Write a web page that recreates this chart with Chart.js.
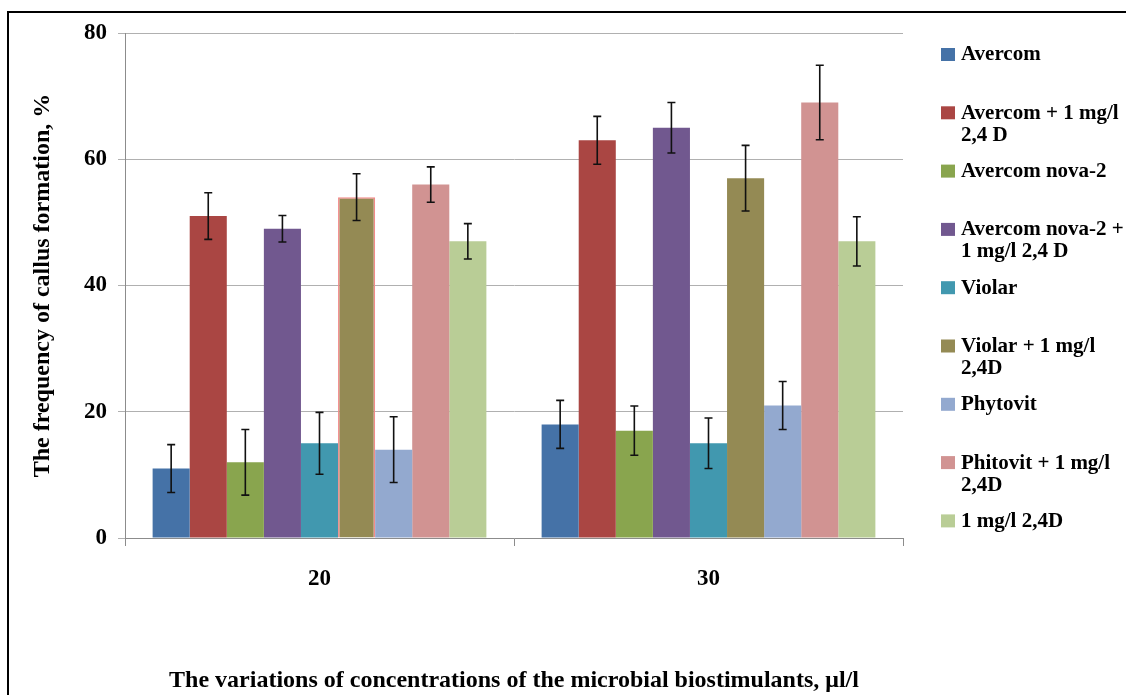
<!DOCTYPE html>
<html>
<head>
<meta charset="utf-8">
<script src="https://cdn.jsdelivr.net/npm/chart.js@4/dist/chart.umd.min.js"></script>
<style>
  html, body { margin: 0; padding: 0; background: #fff; overflow: hidden; }
  #marco { position: absolute; left: 7px; top: 11px; width: 1300px; height: 900px; border: 2px solid #000; }
  #caja { position: absolute; left: 0; top: 0; width: 1126px; height: 695px; }
</style>
</head>
<body>
<div id="marco"></div>
<div id="caja"><canvas id="graficoCallo"></canvas></div>
<script>
// Datos
const categorias = ['20', '30'];
const nombresSeries = [
  'Avercom',
  ['Avercom + 1 mg/l', '2,4 D'],
  'Avercom nova-2',
  ['Avercom nova-2 +', '1 mg/l 2,4 D'],
  'Violar',
  ['Violar + 1 mg/l', '2,4D'],
  'Phytovit',
  ['Phitovit + 1 mg/l', '2,4D'],
  '1 mg/l 2,4D'
];
const avercom = [11, 18];
const avercomMg = [51, 63];
const nova2 = [12, 17];
const nova2Mg = [49, 65];
const violar = [15, 15];
const violarMg = [54, 57];
const phytovit = [14, 21];
const phitovitMg = [56, 69];
const soloMg = [47, 47];

// Errores (+/-)
const errAvercom = [3.8, 3.8];
const errAvercomMg = [3.7, 3.8];
const errNova2 = [5.2, 3.9];
const errNova2Mg = [2.1, 4.0];
const errViolar = [4.9, 4.0];
const errViolarMg = [3.7, 5.2];
const errPhytovit = [5.2, 3.8];
const errPhitovitMg = [2.8, 5.9];
const errSoloMg = [2.8, 3.9];

const ticksY = [0, 20, 40, 60, 80];

const valores = [avercom, avercomMg, nova2, nova2Mg, violar, violarMg, phytovit, phitovitMg, soloMg];
const errores = [errAvercom, errAvercomMg, errNova2, errNova2Mg, errViolar, errViolarMg, errPhytovit, errPhitovitMg, errSoloMg];
const colores = ['#4572A7', '#AA4643', '#89A54E', '#71588F', '#4198AF', '#948A54', '#93A9CF', '#D19392', '#B9CD96'];

const fuente = "'Liberation Serif', 'Times New Roman', serif";

// Barras de error
const pluginErrores = {
  id: 'errores',
  afterDatasetsDraw(chart) {
    const ctx = chart.ctx;
    const y = chart.scales.y;
    ctx.save();
    ctx.strokeStyle = '#111';
    ctx.lineWidth = 1.6;
    chart.data.datasets.forEach((ds, i) => {
      const meta = chart.getDatasetMeta(i);
      meta.data.forEach((barra, j) => {
        const v = ds.data[j];
        const e = errores[i][j];
        const yArriba = y.getPixelForValue(v + e);
        const yAbajo = y.getPixelForValue(v - e);
        const x = barra.x;
        ctx.beginPath();
        ctx.moveTo(x, yArriba); ctx.lineTo(x, yAbajo);
        ctx.moveTo(x - 4, yArriba); ctx.lineTo(x + 4, yArriba);
        ctx.moveTo(x - 4, yAbajo); ctx.lineTo(x + 4, yAbajo);
        ctx.stroke();
      });
    });
    ctx.restore();
  }
};

// Leyenda a la derecha
const pluginLeyenda = {
  id: 'leyendaDerecha',
  afterDraw(chart) {
    const ctx = chart.ctx;
    ctx.save();
    ctx.font = 'bold 21px ' + fuente;
    ctx.textBaseline = 'middle';
    ctx.fillStyle = '#000';
    chart.data.datasets.forEach((ds, i) => {
      const yc = 54 + 58.3 * i;
      ctx.fillStyle = ds.backgroundColor;
      ctx.fillRect(941, yc - 6, 14, 13);
      ctx.fillStyle = '#000';
      const lineas = Array.isArray(ds.label) ? ds.label : [ds.label];
      lineas.forEach((t, k) => ctx.fillText(t, 961, yc + 1 + k * 22));
    });
    ctx.restore();
  }
};

const datasets = valores.map((serie, i) => ({
  label: nombresSeries[i],
  data: serie,
  backgroundColor: colores[i],
  borderColor: i === 5 ? ['#F28A8A', colores[i]] : colores[i],
  borderWidth: i === 5 ? [1.5, 0] : 0
}));

const ctx = document.getElementById('graficoCallo').getContext('2d');
const grafico = new Chart(ctx, {
  type: 'bar',
  data: { labels: categorias, datasets: datasets },
  options: {
    responsive: true,
    maintainAspectRatio: false,
    animation: false,
    layout: { padding: { left: 0, top: 33, right: 223, bottom: 0 } },
    plugins: {
      legend: { display: false },
      tooltip: { enabled: false }
    },
    datasets: { bar: { categoryPercentage: 0.858, barPercentage: 1 } },
    scales: {
      x: {
        grid: { drawOnChartArea: false, drawTicks: true, tickLength: 8, color: '#8c8c8c', offset: true },
        border: { color: '#8c8c8c', width: 1 },
        ticks: { color: '#000', padding: 19, font: { family: fuente, size: 23, weight: 'bold' } },
        title: {
          display: true,
          text: 'The variations of concentrations of the microbial biostimulants, μl/l',
          color: '#000',
          padding: { top: 0, bottom: 0 },
          font: { family: fuente, size: 24, weight: 'bold' }
        },
        afterFit(scale) { scale.height = 157; }
      },
      y: {
        min: 0,
        max: 80,
        afterBuildTicks(scale) { scale.ticks = ticksY.map(v => ({ value: v })); },
        grid: { color: '#b0b0b0', tickLength: 7, lineWidth: 1 },
        border: { color: '#8c8c8c', width: 1 },
        ticks: { color: '#000', padding: 11, font: { family: fuente, size: 23, weight: 'bold' } },
        title: {
          display: true,
          text: 'The frequency of callus formation, %',
          color: '#000',
          padding: { top: 28, bottom: 0 },
          font: { family: fuente, size: 24, weight: 'bold' }
        },
        afterFit(scale) { scale.width = 125; }
      }
    }
  },
  plugins: [pluginErrores, pluginLeyenda]
});
</script>
</body>
</html>
